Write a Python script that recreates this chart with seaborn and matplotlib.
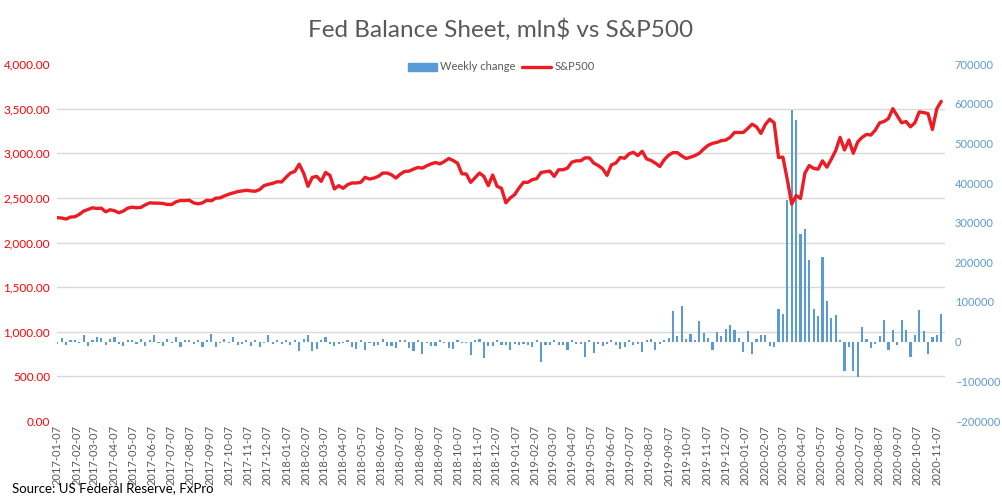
"""
Fed Balance Sheet weekly change (mln$) vs S&P500 weekly close, 2017-2020
"""
import pandas as pd
import matplotlib
matplotlib.use("Agg")
import matplotlib.pyplot as plt
import matplotlib.dates as mdates
from matplotlib.ticker import FuncFormatter
from matplotlib.patches import Patch
from matplotlib.lines import Line2D
import seaborn as sns

sns.set_style("white")
plt.rcParams["font.family"] = ["Lato", "DejaVu Sans"]

# ---------------------------------------------------------
# DATA
# ---------------------------------------------------------
weeks = pd.date_range("2017-01-07", periods=202, freq="7D")

# Fed balance sheet, weekly change, mln$
weekly_change = [
    -5000, 9000, -8000, 4000, 4000, -4000, 17000, -10000, 5000, 12000,
    9000, -8000, 6000, 12000, -6000, -10000, 4000, 4000, -6000, 6000,
    -10000, 4000, 17000, -4000, -10000, 6000, -4000, 12000, -14000, 4000,
    4000, -6000, 4000, -14000, 4000, 19000, -14000, -4000, 6000, -4000,
    12000, -8000, -6000, 4000, -10000, 4000, -14000, -4000, 17000, -6000,
    4000, -6000, 4000, -8000, 4000, -24000, 6000, 17000, -24000, -19000,
    4000, 12000, -6000, -10000, -6000, -4000, 4000, -14000, -19000, 4000,
    -22000, -4000, -10000, -8000, 6000, -10000, -10000, -16000, 4000, 4000,
    -16000, -24000, 4000, -31000, -4000, -10000, -10000, 4000, -4000, -16000,
    -19000, 4000, -4000, -4000, -34000, 4000, 6000, -40000, -10000, -12000,
    4000, -8000, -9000, -20000, -5000, -9000, -5000, -9000, -14000, 4000,
    -50000, -9000, -8000, 4000, -9000, -9000, -22000, 4000, -7000, -5000,
    -39000, 4000, -29000, -7000, -11000, -5000, 4000, -8000, -19000, -14000,
    4000, -9000, -7000, -27000, 4000, 6000, -21000, -7000, 4000, 9000,
    77000, 14000, 89000, 6000, 19000, 4000, 51000, 22000, 9000, -20000,
    24000, 14000, 31000, 43000, 29000, 9000, -27000, 26000, -32000, 6000,
    16000, 16000, -11000, -14000, 83000, 70000, 357000, 585000, 558000, 271000,
    284000, 206000, 83000, 65000, 214000, 103000, 60000, 68000, 5000, -75000,
    -14000, -75000, -90000, 38000, 6000, -17000, -5000, 14000, 54000, -21000,
    29000, -9000, 54000, 29000, -39000, 18000, 80000, 26000, -31000, 11000,
    18000, 70000,
]

# S&P500 weekly close
sp500 = [
    2278, 2274, 2263, 2285, 2289, 2315, 2352, 2370, 2389, 2381,
    2385, 2344, 2367, 2356, 2333, 2352, 2385, 2396, 2389, 2393,
    2422, 2444, 2441, 2441, 2437, 2426, 2426, 2456, 2470, 2470,
    2474, 2444, 2433, 2444, 2474, 2467, 2496, 2500, 2522, 2541,
    2556, 2570, 2578, 2585, 2578, 2574, 2593, 2637, 2652, 2663,
    2681, 2678, 2730, 2778, 2796, 2878, 2778, 2630, 2730, 2741,
    2685, 2785, 2752, 2600, 2637, 2607, 2648, 2667, 2667, 2674,
    2730, 2711, 2722, 2741, 2778, 2778, 2759, 2722, 2767, 2796,
    2800, 2822, 2841, 2833, 2859, 2881, 2896, 2881, 2907, 2941,
    2919, 2889, 2770, 2767, 2674, 2726, 2778, 2741, 2637, 2756,
    2630, 2607, 2445, 2500, 2537, 2611, 2674, 2674, 2704, 2715,
    2785, 2793, 2800, 2741, 2815, 2815, 2833, 2900, 2915, 2915,
    2948, 2948, 2889, 2863, 2826, 2752, 2870, 2889, 2952, 2944,
    2993, 3011, 2974, 3022, 2937, 2919, 2889, 2852, 2926, 2978,
    3007, 3007, 2970, 2941, 2956, 2974, 3000, 3048, 3089, 3111,
    3122, 3141, 3148, 3178, 3233, 3233, 3233, 3278, 3326, 3296,
    3222, 3322, 3381, 3341, 2952, 2956, 2704, 2430, 2526, 2493,
    2778, 2863, 2830, 2822, 2915, 2844, 2933, 3030, 3178, 3037,
    3148, 3000, 3126, 3178, 3211, 3204, 3259, 3341, 3356, 3389,
    3500, 3419, 3341, 3356, 3296, 3341, 3463, 3456, 3444, 3267,
    3500, 3581,
]

left_ticks = list(range(0, 4001, 500))
right_ticks = list(range(-200000, 700001, 100000))

df = pd.DataFrame({"week": weeks, "change": weekly_change, "sp500": sp500})

BLUE = "#5B9BD5"
RED = "#ED1C24"
GREY = "#595959"

# ---------------------------------------------------------
# PLOT
# ---------------------------------------------------------
fig = plt.figure(figsize=(10.02, 5.0), dpi=100)
ax_bar = fig.add_axes([57 / 1002, 79 / 500, 888 / 1002, 357 / 500])
ax_line = ax_bar.twinx()

ax_bar.bar(df["week"], df["change"], width=3.4, color=BLUE, linewidth=0,
           antialiased=False, zorder=2)
sns.lineplot(data=df, x="week", y="sp500", ax=ax_line, color=RED, linewidth=2.4)

# bars axis -> right side, line axis -> left side
ax_bar.set_ylim(right_ticks[0], right_ticks[-1])
ax_bar.yaxis.tick_right()
ax_bar.set_yticks(right_ticks)
ax_bar.tick_params(axis="y", colors=BLUE, labelsize=8, length=0, pad=7)

ax_line.set_ylim(left_ticks[0], left_ticks[-1])
ax_line.yaxis.tick_left()
ax_line.set_yticks(left_ticks)
ax_line.yaxis.set_major_formatter(FuncFormatter(lambda v, p: f"{v:,.2f}"))
ax_line.tick_params(axis="y", colors="#FF0000", labelsize=8.5, length=0, pad=5)
ax_line.set_xlabel("")
ax_line.set_ylabel("")

# horizontal gridlines follow the left axis, drawn behind the bars
lo, hi = right_ticks[0], right_ticks[-1]
grid_pos = [lo + t / left_ticks[-1] * (hi - lo) for t in left_ticks]
ax_bar.set_yticks(grid_pos, minor=True)
ax_bar.tick_params(axis="y", which="minor", length=0)
ax_bar.grid(which="minor", axis="y", color="#D9D9D9", linewidth=1)
ax_bar.grid(which="major", axis="y", visible=False)
ax_bar.set_axisbelow(True)

ax_bar.set_xlim(weeks[0] - pd.Timedelta(days=0.5), weeks[-1] + pd.Timedelta(days=6))
ax_bar.xaxis.set_major_locator(mdates.MonthLocator(bymonthday=7))
ax_bar.xaxis.set_major_formatter(mdates.DateFormatter("%Y-%m-%d"))
ax_bar.tick_params(axis="x", colors=GREY, labelsize=8, length=0, pad=3, labelrotation=90)

for a in (ax_bar, ax_line):
    for s in a.spines.values():
        s.set_visible(False)

fig.text(0.5, 1 - 30 / 500, "Fed Balance Sheet, mln$ vs S&P500",
         ha="center", va="center", fontsize=17.5, color=GREY)

handles = [Patch(color=BLUE, label="Weekly change"),
           Line2D([0], [0], color=RED, linewidth=2.4, label="S&P500")]
fig.legend(handles=handles, loc="center", bbox_to_anchor=(0.5, 1 - 67 / 500), ncol=2,
           frameon=False, fontsize=8, labelcolor=GREY, handlelength=2.6,
           handletextpad=0.3, columnspacing=0.6, borderpad=0)

fig.text(12 / 1002, 1 - 488 / 500, "Source: US Federal Reserve, FxPro",
         ha="left", va="center", fontsize=9.5, color="black")

fig.savefig("out.png", dpi=100)
